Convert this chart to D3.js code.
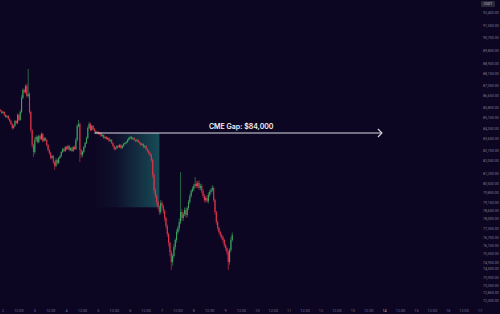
<!DOCTYPE html>
<html><head><meta charset="utf-8">
<script src="https://cdn.jsdelivr.net/npm/d3@7"></script>
<style>html,body{margin:0;padding:0;background:#0d0623;overflow:hidden}svg{display:block}</style>
</head><body><svg id="c" width="500" height="314"></svg>
<script>
// ---- data (BTC/USDT, 1h candles from 1 Apr 22:00 UTC) ----
const startTime = "2025-04-01T22:00:00Z";
const firstOpen = 85600;
const closes = [
85540,85400,85470,85260,85120,85190,84980,84840,84630,84350,
84490,84840,84700,85260,84910,85470,86450,87010,86870,87290,
86590,86730,85470,84210,83160,82670,83510,83720,83370,83790,
83580,83930,83440,83650,83510,83160,82810,82600,82250,82390,
81970,81690,82110,81900,82250,82390,82670,82880,82740,83020,
82880,83090,82810,82950,82740,83020,82880,83510,84490,84630,
82810,82460,82670,83020,83300,83650,84350,84630,84210,84490,
84280,84140,84000,84070,83930,84000,83790,83860,83650,83720,
83580,83650,83440,83510,83300,83090,82880,82950,83090,83020,
83160,82950,83090,83230,83300,83370,83510,83650,83720,83580,
83650,83510,83440,83510,83370,83300,83160,83230,83020,83090,
82880,82740,82600,82460,82110,81060,80010,79590,79170,78820,
78470,79100,78890,78540,78050,77490,76930,76300,75670,74970,
75390,76020,76510,77070,77350,77770,78470,78050,78330,78610,
78260,78750,79170,79590,79940,80080,80290,80430,80290,80500,
80150,80290,79940,79590,79310,79450,79240,79660,79870,80010,
80150,79310,78470,77770,77350,77070,76860,76720,76510,76160,
75950,75670,74970,75810,76510,76860];
// upper / lower shadow lengths (USDT) beyond the candle body
const wickUp = [
80,60,90,50,70,60,80,50,70,60, 90,70,60,120,80,150,200,120,90,100,
150,1750,120,100,80,90,200,120,90,100, 80,120,70,90,60,80,70,60,90,70,
80,60,150,90,70,80,60,90,70,80, 60,90,70,80,60,70,100,150,120,280,
100,80,90,70,80,100,120,140,80,90, 70,80,60,70,50,60,70,60,50,60,
70,60,50,60,70,50,60,80,70,60, 70,60,80,70,60,50,80,70,60,80,
70,60,50,70,60,50,70,60,50,60, 60,70,50,60,80,120,150,100,120,90,
120,200,150,100,120,90,110,100,90,120, 150,200,120,180,150,250,2800,200,150,180,
160,120,150,140,120,180,150,490,200,150, 180,160,140,120,150,130,200,180,150,160,
200,120,100,90,110,100,90,80,100,90, 80,90,150,120,200,180];
const wickDown = [
60,80,50,90,70,60,50,80,90,120, 70,60,80,90,70,60,100,80,120,90,
100,120,150,180,200,350,150,120,90,100, 80,70,90,60,80,100,90,120,100,80,
150,280,90,100,80,70,90,60,80,70, 80,60,90,70,80,60,70,80,100,90,
840,200,150,100,90,70,80,90,100,70, 80,70,60,80,70,60,70,80,60,70,
60,70,80,60,70,80,90,70,80,60, 70,80,60,70,60,80,70,60,70,60,
60,70,80,60,70,80,60,70,90,80, 80,90,100,120,150,200,250,150,200,180,
200,150,180,200,220,180,200,250,300,560, 250,150,200,180,150,200,150,180,200,150,
180,160,140,150,120,100,130,120,140,150, 130,150,160,140,170,150,130,160,140,150,
120,150,180,200,160,150,180,170,200,160, 180,200,560,200,150,120];
const yTicks = [92450,91550,90700,89800,88900,88150,87350,86650,85800,85100,84350,83600,82750,82050,81200,80500,79850,79150,78600,78000,77350,76700,76100,75550,74950,74500,73900,73350,72850,72300];
const xTickLabels = ["2","12:00","3","12:00","4","12:00","5","12:00","6","12:00","7","12:00","8","12:00","9","12:00","10","12:00","11","12:00","12","12:00","13","12:00","14","12:00","15","12:00","16","12:00","17"];
const gapPrice = 84000;
const gapStart = "2025-04-04T21:00:00Z", gapEnd = "2025-04-13T22:00:00Z";
const weekendEnd = "2025-04-06T22:00:00Z", weekendLow = 78800;
const gapLabel = "CME Gap: $84,000";

// ---- scales ----
const svg = d3.select("#c");
const W = 500, H = 314;
const x = d3.scaleUtc().domain([new Date("2025-04-02T00:00:00Z"), new Date("2025-04-17T00:00:00Z")]).range([3, 480]);
const y = d3.scaleLinear().domain([93310, 72310]).range([0, 300]);
const t0 = new Date(startTime).getTime();
const candles = closes.map((c, i) => {
  const o = i === 0 ? firstOpen : closes[i - 1];
  return {t: new Date(t0 + i * 3600e3), o, c,
    h: Math.max(o, c) + wickUp[i], l: Math.min(o, c) - wickDown[i]};
});

svg.append("rect").attr("width", W).attr("height", H).attr("fill", "#0d0623");

// weekend gap shading
const defs = svg.append("defs");
const g = defs.append("linearGradient").attr("id", "gapg").attr("x1", 0).attr("x2", 1).attr("y1", 0).attr("y2", 0);
g.append("stop").attr("offset", "0%").attr("stop-color", "#1c686c").attr("stop-opacity", 0);
g.append("stop").attr("offset", "35%").attr("stop-color", "#1c686c").attr("stop-opacity", 0.12);
g.append("stop").attr("offset", "100%").attr("stop-color", "#1c686c").attr("stop-opacity", 0.7);
svg.append("rect")
  .attr("x", x(new Date(gapStart))).attr("y", y(gapPrice))
  .attr("width", x(new Date(weekendEnd)) - x(new Date(gapStart)))
  .attr("height", y(weekendLow) - y(gapPrice))
  .attr("fill", "url(#gapg)");

// candles
const up = "#3aa35f", down = "#e0344c";
const cg = svg.append("g");
cg.selectAll("line.w").data(candles).join("line")
  .attr("x1", d => x(d.t)).attr("x2", d => x(d.t))
  .attr("y1", d => y(d.h)).attr("y2", d => y(d.l))
  .attr("stroke", d => d.c >= d.o ? up : down).attr("stroke-width", 0.6);
cg.selectAll("rect.b").data(candles).join("rect")
  .attr("x", d => x(d.t) - 0.55).attr("width", 1.1)
  .attr("y", d => y(Math.max(d.o, d.c)))
  .attr("height", d => Math.max(0.6, Math.abs(y(d.o) - y(d.c))))
  .attr("fill", d => d.c >= d.o ? up : down);

// gap line + arrow
const gy = y(gapPrice), gx1 = x(new Date(gapStart)), gx2 = x(new Date(gapEnd));
svg.append("line").attr("x1", gx1).attr("x2", gx2).attr("y1", gy).attr("y2", gy)
  .attr("stroke", "#d9d9e3").attr("stroke-width", 1.2);
svg.append("path").attr("d", `M${gx2 - 4},${gy - 4}L${gx2},${gy}L${gx2 - 4},${gy + 4}`)
  .attr("fill", "none").attr("stroke", "#d9d9e3").attr("stroke-width", 1.1);
svg.append("text").attr("x", (gx1 + gx2) / 2 + 3).attr("y", gy - 4.5)
  .attr("text-anchor", "middle").attr("fill", "#f2f2f5")
  .attr("font-family", "Inter, Roboto, sans-serif").attr("font-weight", 600).attr("font-size", 7)
  .text(gapLabel);

// y axis labels
const fmt = d3.format(",.2f");
svg.append("g").selectAll("text").data(yTicks).join("text")
  .attr("x", 483).attr("y", d => y(d) + 1.5)
  .attr("fill", "#7e7a92").attr("font-family", "Roboto, sans-serif").attr("font-size", 3.6)
  .text(d => fmt(d));
svg.append("rect").attr("x", 481).attr("y", 1).attr("width", 14).attr("height", 6).attr("rx", 1).attr("fill", "#2b2838");
svg.append("text").attr("x", 488).attr("y", 5.3).attr("text-anchor", "middle")
  .attr("fill", "#b8b6c4").attr("font-family", "Roboto, sans-serif").attr("font-size", 3.4).text("USDT");

// x axis labels (every 12h)
const xt = xTickLabels.map((s, i) => ({s, t: new Date(Date.UTC(2025, 3, 2) + i * 12 * 3600e3)}));
svg.append("g").selectAll("text").data(xt).join("text")
  .attr("x", d => x(d.t)).attr("y", 312).attr("text-anchor", "middle")
  .attr("fill", d => d.s === "14" ? "#a9a6b8" : "#6f6b84").attr("font-family", "Roboto, sans-serif")
  .attr("font-size", 3.8).text(d => d.s);
</script></body></html>
